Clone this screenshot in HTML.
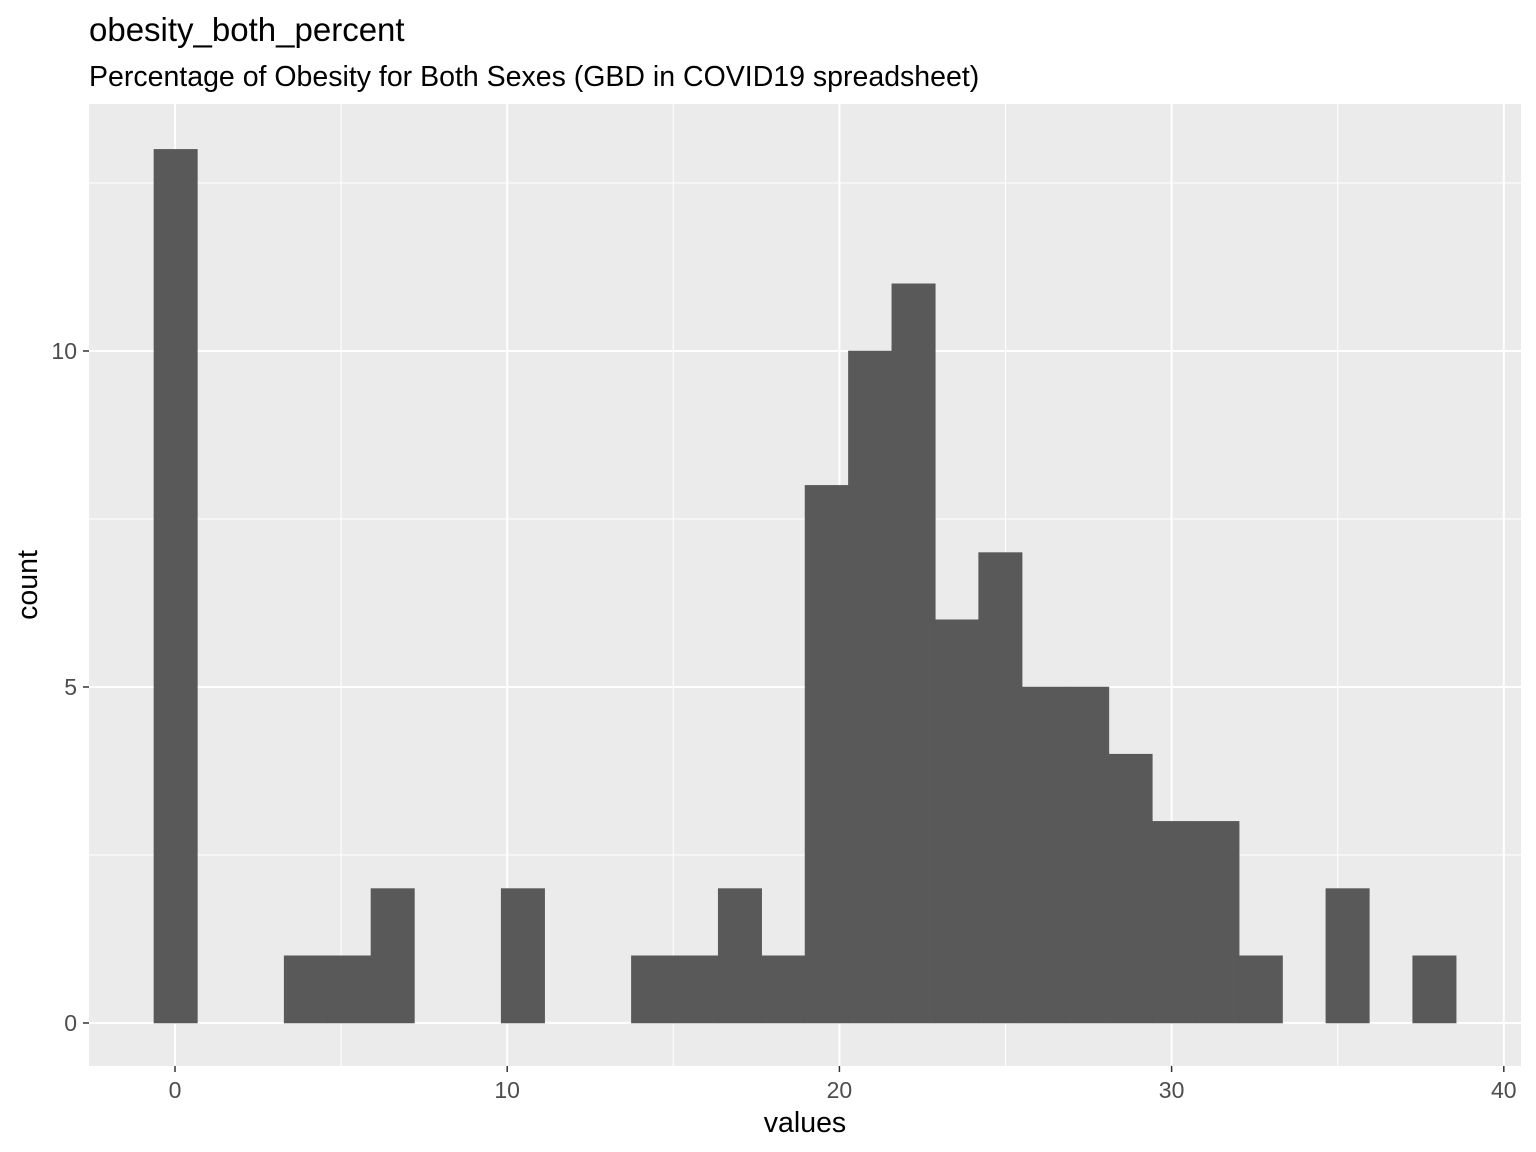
<!DOCTYPE html>
<html><head><meta charset="utf-8"><style>
body{margin:0;background:#fff;}
svg{display:block;font-family:"Liberation Sans",Arial,sans-serif;}
</style></head><body>
<svg id="chart" width="1536" height="1152">
<rect width="1536" height="1152" fill="#fff"/>
<text x="89" y="41" font-size="33" fill="#000">obesity_both_percent</text>
<text x="89" y="86" font-size="28.5" fill="#000">Percentage of Obesity for Both Sexes (GBD in COVID19 spreadsheet)</text>
<rect x="89" y="104" width="1432" height="962" fill="#ebebeb"/>
<g id="grid"></g><g id="bars"></g><g id="axes"></g>
<text x="805" y="1132" font-size="28.5" text-anchor="middle" fill="#000">values</text>
<text transform="translate(37,585) rotate(-90)" font-size="28.5" text-anchor="middle" fill="#000">count</text>
</svg>
<script>
const binStart = -0.633;
const binWidth = 1.3066;
const counts = [13,0,0,1,1,2,0,0,2,0,0,1,1,2,1,8,10,11,6,7,5,5,4,3,3,1,0,2,0,1];
const xTicks = [0,10,20,30,40];
const xMinor = [5,15,25,35];
const yTicks = [0,5,10];
const yMinor = [2.5,7.5,12.5];
const NS="http://www.w3.org/2000/svg";
const x = v => 175 + (v)*33.22;
const y = v => 1023 - v*67.2;
function mk(tag,attrs,parent){const e=document.createElementNS(NS,tag);for(const k in attrs)e.setAttribute(k,attrs[k]);document.getElementById(parent).appendChild(e);return e;}
yMinor.forEach(v=>{const l=mk('line',{x1:89,x2:1521,y1:y(v),y2:y(v),stroke:'#fff','stroke-width':1},'grid');

});
xMinor.forEach(v=>{const l=mk('line',{x1:x(v),x2:x(v),y1:104,y2:1066,stroke:'#fff','stroke-width':1},'grid');

});
yTicks.forEach(v=>{const l=mk('line',{x1:89,x2:1521,y1:y(v),y2:y(v),stroke:'#fff','stroke-width':2},'grid');


mk('line',{x1:83,x2:89,y1:y(v),y2:y(v),stroke:'#333','stroke-width':1.5},'axes');
const t=mk('text',{x:77,y:y(v)+8,'font-size':23,'text-anchor':'end',fill:'#4d4d4d'},'axes');t.textContent=v;

});
xTicks.forEach(v=>{const l=mk('line',{x1:x(v),x2:x(v),y1:104,y2:1066,stroke:'#fff','stroke-width':2},'grid');


mk('line',{x1:x(v),x2:x(v),y1:1066,y2:1072,stroke:'#333','stroke-width':1.5},'axes');
const t=mk('text',{x:x(v),y:1098,'font-size':23,'text-anchor':'middle',fill:'#4d4d4d'},'axes');t.textContent=v;

});
counts.forEach((c,i)=>{if(c<=0)return;const x0=x(binStart+i*binWidth),x1=x(binStart+(i+1)*binWidth);
const r=mk('rect',{x:x0,y:y(c),width:x1-x0,height:y(0)-y(c),fill:'#595959',stroke:'#595959','stroke-width':0.6},'bars');

});
</script>
</body></html>
